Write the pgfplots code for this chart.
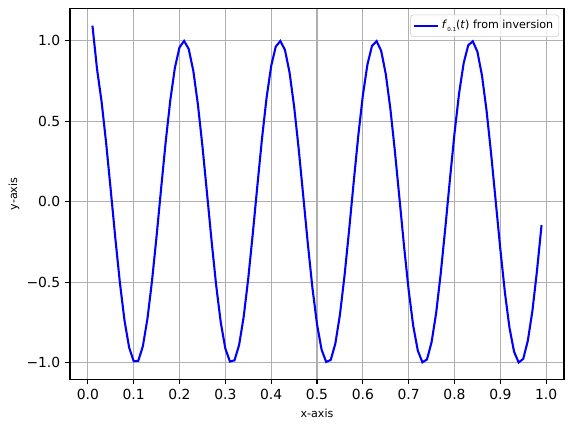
\documentclass[border=0pt]{standalone}
\usepackage{fontspec}
\setmainfont{DejaVu Sans}
\usepackage{pgfplots}
\usepackage{pgfplotstable}
\pgfplotsset{compat=1.18}
\definecolor{gridgray}{HTML}{B0B0B0}
\definecolor{legedge}{HTML}{CCCCCC}

\pgfplotstableread{
t y
0.01 1.095
0.02 0.8253
0.03 0.6216
0.04 0.3624
0.05 0.0707
0.06 -0.2272
0.07 -0.5048
0.08 -0.7374
0.09 -0.9041
0.10 -0.9900
0.11 -0.9875
0.12 -0.8968
0.13 -0.7259
0.14 -0.4903
0.15 -0.2108
0.16 0.0875
0.17 0.3780
0.18 0.6347
0.19 0.8347
0.20 0.9602
0.21 0.9999
0.22 0.9502
0.23 0.8158
0.24 0.6084
0.25 0.3466
0.26 0.0540
0.27 -0.2435
0.28 -0.5193
0.29 -0.7487
0.30 -0.9111
0.31 -0.9918
0.32 -0.9843
0.33 -0.8889
0.34 -0.7143
0.35 -0.4755
0.36 -0.1943
0.37 0.1042
0.38 0.3935
0.39 0.6476
0.40 0.8439
0.41 0.9647
0.42 0.9994
0.43 0.9449
0.44 0.8059
0.45 0.5949
0.46 0.3306
0.47 0.0372
0.48 -0.2598
0.49 -0.5336
0.50 -0.7597
0.51 -0.9176
0.52 -0.9944
0.53 -0.9818
0.54 -0.8806
0.55 -0.7024
0.56 -0.4604
0.57 -0.1778
0.58 0.1208
0.59 0.4090
0.60 0.6603
0.61 0.8527
0.62 0.9690
0.63 0.9987
0.64 0.9392
0.65 0.7958
0.66 0.5813
0.67 0.3145
0.68 0.0204
0.69 -0.2762
0.70 -0.5477
0.71 -0.7705
0.72 -0.9240
0.73 -0.9965
0.74 -0.9788
0.75 -0.8720
0.76 -0.6904
0.77 -0.4452
0.78 -0.1613
0.79 0.1374
0.80 0.4242
0.81 0.6729
0.82 0.8612
0.83 0.9730
0.84 0.9977
0.85 0.9333
0.86 0.7856
0.87 0.5676
0.88 0.2984
0.89 0.0035
0.90 -0.2921
0.91 -0.5617
0.92 -0.7813
0.93 -0.9302
0.94 -0.9974
0.95 -0.9755
0.96 -0.8633
0.97 -0.6782
0.98 -0.4297
0.99 -0.1448
}\datatable

\begin{document}
\begin{tikzpicture}
\begin{axis}[
  name=ax,
  scale only axis,
  width=355.7pt, height=266.8pt,
  xmin=-0.039, xmax=1.039,
  ymin=-1.102, ymax=1.2,
  xtick={0,0.1,0.2,0.3,0.4,0.5,0.6,0.7,0.8,0.9,1.0},
  xticklabels={0.0,0.1,0.2,0.3,0.4,0.5,0.6,0.7,0.8,0.9,1.0},
  ytick={-1,-0.5,0,0.5,1},
  yticklabels={−1.0,−0.5,0.0,0.5,1.0},
  xtick pos=left, ytick pos=left,
  tick align=outside,
  major tick length=3.5pt,
  tick style={black, line width=0.8pt},
  tick label style={font=\fontsize{10}{12}\selectfont},
  xlabel={x-axis}, ylabel={y-axis},
  every axis x label/.style={at={(axis description cs:0.5,-0.0907)}, anchor=center, font=\fontsize{8}{9.6}\selectfont},
  every axis y label/.style={at={(axis description cs:-0.113,0.5)}, rotate=90, anchor=center, font=\fontsize{8}{9.6}\selectfont},
  grid=major,
  major grid style={gridgray, line width=0.8pt},
  axis line style={black, line width=0.8pt},
  legend style={
    at={(0.99,0.984)}, anchor=north east,
    draw=legedge, rounded corners=2pt,
    fill=white, fill opacity=0.8, text opacity=1,
    font=\fontsize{8}{9.6}\selectfont,
    inner sep=2pt,
  },
  legend cell align=left,
]
\addplot[blue, line width=1.5pt, no marks] table[x=t, y=y] {\datatable};
\addlegendentry{\textit{f}\raisebox{-0.5ex}{\fontsize{4}{4}\selectfont 0.1}(\textit{t}) from inversion}
\end{axis}
\pgfresetboundingbox
\path[use as bounding box] ([xshift=-50.4pt,yshift=-35pt]ax.south west) rectangle ([xshift=7.2pt,yshift=6.3pt]ax.north east);
\end{tikzpicture}
\end{document}
